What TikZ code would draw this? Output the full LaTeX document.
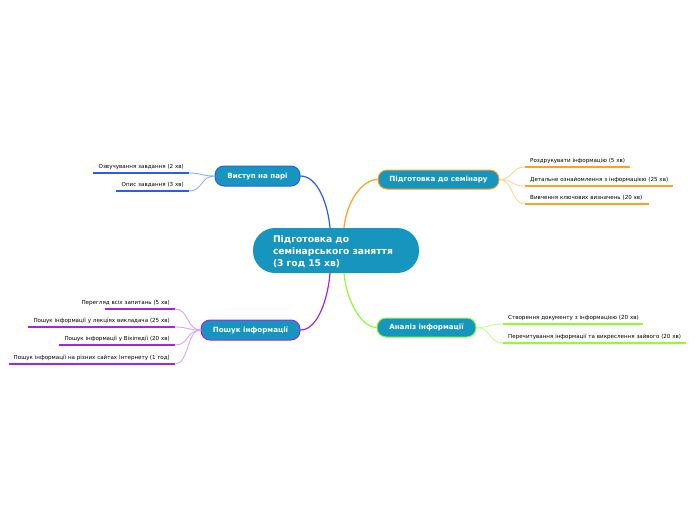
\documentclass[tikz,border=0pt]{standalone}
\usepackage{fontspec}
\setmainfont{DejaVu Sans}
\definecolor{teal1}{HTML}{1696BE}
\definecolor{cblue}{HTML}{2A5CF2}
\definecolor{lblue}{HTML}{8FAEFF}
\definecolor{corange}{HTML}{FFA020}
\definecolor{lorange}{HTML}{FFD39A}
\definecolor{cpurple}{HTML}{A424EE}
\definecolor{lpurple}{HTML}{D8A6FF}
\definecolor{cgreen}{HTML}{8EFF2C}
\definecolor{lgreen}{HTML}{C4FF8E}
\newcommand{\rtxt}[1]{\hbox to \linewidth{\hss #1}}
\newcommand{\ltxt}[1]{\hbox to \linewidth{#1\hss}}
\tikzset{
  mainbox/.style={rounded corners=9pt, fill=teal1, draw=#1, line width=1pt, text=white,
    font=\fontsize{7.1}{8}\bfseries\selectfont, inner sep=0pt, text height=4.6pt, text depth=0.4pt},
  leafL/.style={anchor=south east, inner xsep=5pt, inner ysep=2.6pt, align=right,
    font=\fontsize{5.55}{6}\selectfont, text height=4.1pt, text depth=1.3pt},
  leafR/.style={anchor=south west, inner xsep=5pt, inner ysep=2.6pt, align=left,
    font=\fontsize{5.55}{6}\selectfont, text height=4.1pt, text depth=1.3pt},
  uline/.style={draw=#1, line width=1.8pt},
  conn/.style={draw=#1, line width=0.9pt},
  mconn/.style={draw=#1, line width=1.2pt}
}
\begin{document}
\begin{tikzpicture}[x=1pt,y=-1pt]
\useasboundingbox (0,0) rectangle (696,520);
% central
\node[fill=teal1, rounded corners=22pt, minimum width=166pt, minimum height=45pt, inner sep=0pt,
  text=white, font=\fontsize{9.2}{12}\bfseries\selectfont, align=left, text width=126pt] (c) at (336,250.5)
  {\rule{0pt}{9pt}Підготовка до\\семінарського заняття\\(3 год 15 хв)};
% main nodes
\node[mainbox=cblue, minimum width=85pt, minimum height=20pt] (v) at (257.5,176) {Виступ на парі};
\node[mainbox=corange, minimum width=121pt, minimum height=19pt] (p) at (438.5,179.5) {Підготовка до семінару};
\node[mainbox=cpurple, minimum width=99pt, minimum height=20pt] (s) at (250.5,330) {Пошук інформації};
\node[mainbox=cgreen, minimum width=99pt, minimum height=19pt] (a) at (426.5,327.5) {Аналіз інформації};
% main connectors
\draw[mconn=cblue] (v.east) .. controls (318,176) and (328,205) .. ([xshift=-6pt]c.north);
\draw[mconn=corange] (p.west) .. controls (360,180) and (346,205) .. ([xshift=8pt]c.north);
\draw[mconn=cpurple] (s.east) .. controls (318,330) and (328,298) .. ([xshift=-6pt]c.south);
\draw[mconn=cgreen] (a.west) .. controls (360,327) and (346,298) .. ([xshift=8pt]c.south);
% leaves: Виступ
\node[leafL, text width=86pt] (l1) at (189,173) {\rtxt{Озвучування завдання (2 хв)}};
\node[leafL, text width=63pt] (l2) at (189,191) {\rtxt{Опис завдання (3 хв)}};
% leaves: Підготовка
\node[leafR, text width=95pt] (r1) at (525,167) {\ltxt{Роздрукувати інформацію (5 хв)}};
\node[leafR, text width=138pt] (r2) at (525,186) {\ltxt{Детальне ознайомлення з інформацією (25 хв)}};
\node[leafR, text width=114pt] (r3) at (525,204) {\ltxt{Вивчення ключових визначень (20 хв)}};
% leaves: Пошук
\node[leafL, text width=60pt] (s1) at (175,309) {\rtxt{Перегляд всіх запитань (5 хв)}};
\node[leafL, text width=137pt] (s2) at (175,327) {\rtxt{Пошук інформації у лекціях викладача (25 хв)}};
\node[leafL, text width=106pt] (s3) at (175,345) {\rtxt{Пошук інформації у Вікіпедії (20 хв)}};
\node[leafL, text width=156pt] (s4) at (175,364) {\rtxt{Пошук інформації на різних сайтах Інтернету (1 год)}};
% leaves: Аналіз
\node[leafR, text width=130pt] (a1) at (503,324) {\ltxt{Створення документу з інформацією (20 хв)}};
\node[leafR, text width=173pt] (a2) at (503,343) {\ltxt{Перечитування інформації та викреслення зайвого (20 хв)}};
% underlines
\foreach \n in {l1,l2} \draw[uline=cblue] (\n.south west) -- (\n.south east);
\foreach \n in {r1,r2,r3} \draw[uline=corange] (\n.south west) -- (\n.south east);
\foreach \n in {s1,s2,s3,s4} \draw[uline=cpurple] (\n.south west) -- (\n.south east);
\foreach \n in {a1,a2} \draw[uline=cgreen] (\n.south west) -- (\n.south east);
% leaf connectors
\foreach \n in {l1,l2} \draw[conn=lblue] (v.west) .. controls +(-14,0) and +(14,0) .. (\n.south east);
\foreach \n in {r1,r2,r3} \draw[conn=lorange] (p.east) .. controls +(14,0) and +(-14,0) .. (\n.south west);
\foreach \n in {s1,s2,s3,s4} \draw[conn=lpurple] (s.west) .. controls +(-14,0) and +(14,0) .. (\n.south east);
\foreach \n in {a1,a2} \draw[conn=lgreen] (a.east) .. controls +(14,0) and +(-14,0) .. (\n.south west);
\end{tikzpicture}
\end{document}
